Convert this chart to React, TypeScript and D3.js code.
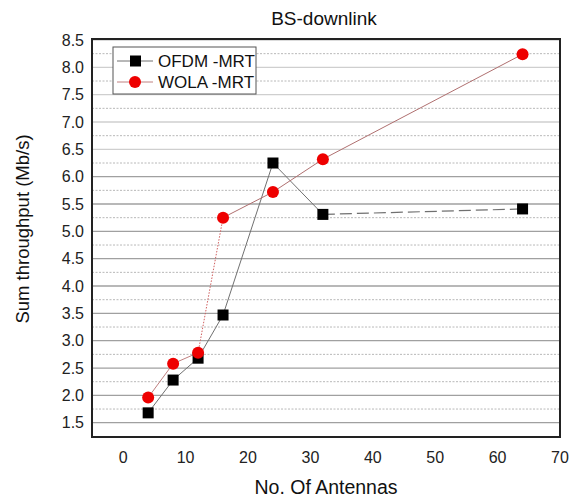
import React from "react";
import * as d3 from "d3";

const antennas = [4, 8, 12, 16, 24, 32, 64];
const ofdmMrt = [1.68, 2.28, 2.68, 3.47, 6.25, 5.31, 5.41];
const wolaMrt = [1.96, 2.58, 2.78, 5.25, 5.72, 6.32, 8.24];
const xTicks = [0, 10, 20, 30, 40, 50, 60, 70];
const yTicks = [1.5, 2.0, 2.5, 3.0, 3.5, 4.0, 4.5, 5.0, 5.5, 6.0, 6.5, 7.0, 7.5, 8.0, 8.5];
const yMinorTicks = [1.75, 2.25, 2.75, 3.25, 3.75, 4.25, 4.75, 5.25, 5.75, 6.25, 6.75, 7.25, 7.75, 8.25];

const W = 574, H = 499;
const L = 92, R = 560, T = 39, B = 437;

export default function App() {
  const x = d3.scaleLinear().domain([-5, 70]).range([L, R]);
  const y = d3.scaleLinear().domain([1.5, 8.5]).range([422.7, 40]);
  const font = "'Liberation Sans', Arial, sans-serif";
  const pts = (vals: number[]) => antennas.map((a, i) => [x(a), y(vals[i])] as [number, number]);
  const ofdm = pts(ofdmMrt);
  const wola = pts(wolaMrt);
  const line = d3.line();
  return (
    <svg width={W} height={H} style={{ position: "absolute", left: 0, top: 0, background: "#fff" }}>
      <rect x={0} y={0} width={W} height={H} fill="#fff" />
      {yMinorTicks.map((v) => (
        <line key={"m" + v} x1={L} x2={R} y1={y(v)} y2={y(v)} stroke="#b8b8b8" strokeWidth={1} strokeDasharray="2,1.5" />
      ))}
      {yTicks.map((v) => (
        <line key={"g" + v} x1={L} x2={R} y1={y(v)} y2={y(v)} stroke={v >= 6.5 ? "#cfcfcf" : "#a0a0a0"} strokeWidth={1.3} />
      ))}
      {/* OFDM line: solid until 32, dashed to 64 */}
      <path d={line(ofdm.slice(0, 6)) || ""} fill="none" stroke="#707070" strokeWidth={1} />
      <path d={line(ofdm.slice(5)) || ""} fill="none" stroke="#707070" strokeWidth={1.2} strokeDasharray="12,5" />
      {/* WOLA line */}
      <path d={line(wola.slice(0, 3)) || ""} fill="none" stroke="#c08080" strokeWidth={1} />
      <path d={line(wola.slice(2, 4)) || ""} fill="none" stroke="#d06060" strokeWidth={1} strokeDasharray="1.5,1.5" />
      <path d={line(wola.slice(3)) || ""} fill="none" stroke="#b07070" strokeWidth={1} />
      {ofdm.map(([px, py], i) => (
        <rect key={"o" + i} x={px - 5.5} y={py - 5.5} width={11} height={11} fill="#000" />
      ))}
      {wola.map(([px, py], i) => (
        <circle key={"w" + i} cx={px} cy={py} r={6} fill="#ee0000" />
      ))}
      <rect x={L} y={T} width={R - L} height={B - T} fill="none" stroke="#222" strokeWidth={2} />
      {yTicks.map((v) => (
        <text key={"yl" + v} x={L - 8} y={y(v)} dy="0.36em" textAnchor="end" fontFamily={font} fontSize={16} fill="#222">
          {v.toFixed(1)}
        </text>
      ))}
      {xTicks.map((v) => (
        <text key={"xl" + v} x={x(v)} y={463} textAnchor="middle" fontFamily={font} fontSize={16} fill="#222">
          {v}
        </text>
      ))}
      <text x={324} y={25} textAnchor="middle" fontFamily={font} fontSize={19} fill="#111">BS-downlink</text>
      <text x={326} y={494} textAnchor="middle" fontFamily={font} fontSize={19.5} fill="#111">No. Of Antennas</text>
      <text transform="translate(29,229) rotate(-90)" textAnchor="middle" fontFamily={font} fontSize={18.5} fill="#111">
        Sum throughput (Mb/s)
      </text>
      {/* Legend */}
      <rect x={113} y={47} width={143} height={47} fill="#fff" stroke="#555" strokeWidth={1} />
      <line x1={117} x2={153} y1={61} y2={61} stroke="#707070" strokeWidth={1} />
      <rect x={130} y={55.5} width={11} height={11} fill="#000" />
      <text x={158} y={61} dy="0.36em" fontFamily={font} fontSize={17} fill="#111">OFDM -MRT</text>
      <line x1={117} x2={153} y1={82} y2={82} stroke="#c08080" strokeWidth={1} />
      <circle cx={135} cy={82} r={6} fill="#ee0000" />
      <text x={158} y={82} dy="0.36em" fontFamily={font} fontSize={17} fill="#111">WOLA -MRT</text>
    </svg>
  );
}
